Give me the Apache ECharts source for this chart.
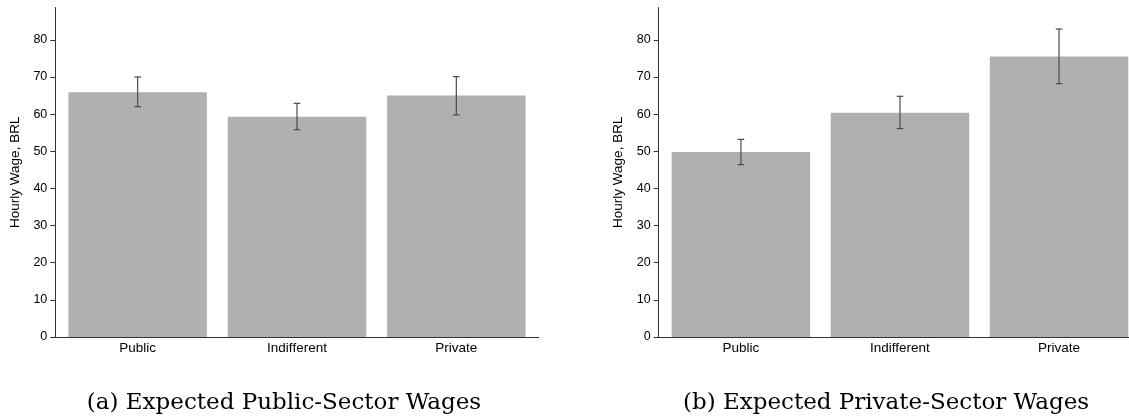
<!DOCTYPE html>
<html>
<head>
<meta charset="utf-8">
<script src="https://cdn.jsdelivr.net/npm/echarts@6/dist/echarts.min.js"></script>
<style>
  html, body { margin: 0; padding: 0; background: #fff; }
  #chart { width: 1129px; height: 417px; }
</style>
</head>
<body>
<div id="chart"></div>
<script>
// Stated sector preference of respondents
const categories = ['Public', 'Indifferent', 'Private'];

// (a) Expected public-sector hourly wages: mean and confidence interval
const publicMean = [65.9, 59.3, 65.0];
const publicLow  = [62.0, 55.8, 59.8];
const publicHigh = [70.0, 62.9, 70.1];

// (b) Expected private-sector hourly wages: mean and confidence interval
const privateMean = [49.8, 60.4, 75.5];
const privateLow  = [46.4, 56.1, 68.2];
const privateHigh = [53.2, 64.8, 82.9];

const yTicks = [0, 10, 20, 30, 40, 50, 60, 70, 80];
const yAxisTitle = 'Hourly Wage, BRL';
const captions = ['(a) Expected Public-Sector Wages', '(b) Expected Private-Sector Wages'];

const sans = 'Liberation Sans, Arial, Helvetica, sans-serif';
const axisColor = '#333';
const barColor = '#b0b0b0';
const whiskerColor = '#4a4a4a';

// Category positions are placed on a numeric x scale (0, 1, 2) so both
// panels share the same spacing; the second panel is cut off by the page edge.
const catIndex = categories.map((c, k) => k);
const grids = [
  { left: 55.3, top: 7.5, width: 483.4, height: 329.5 },
  { left: 658.7, top: 7.5, width: 470.3, height: 329.5 }
];
const xRanges = [[-0.517, 2.517], [-0.517, 2.44]];

function xAxisFor(i) {
  return {
    type: 'value', gridIndex: i, min: xRanges[i][0], max: xRanges[i][1],
    axisLine: { show: true, onZero: false, lineStyle: { color: axisColor, width: 1 } },
    axisTick: { show: false },
    splitLine: { show: false },
    axisLabel: {
      color: '#000', fontFamily: sans, fontSize: 13.5, margin: 4,
      customValues: catIndex, formatter: v => categories[Math.round(v)]
    }
  };
}

function yAxisFor(i) {
  return {
    type: 'value', gridIndex: i, min: 0, max: 88.7, interval: 10,
    name: yAxisTitle, nameLocation: 'middle', nameGap: 33, nameRotate: 90,
    nameTextStyle: { color: '#000', fontFamily: sans, fontSize: 13.5 },
    axisLine: { show: true, onZero: false, lineStyle: { color: axisColor, width: 1 } },
    axisTick: { show: true, length: 5, customValues: yTicks, lineStyle: { color: axisColor } },
    axisLabel: { color: '#000', fontFamily: sans, fontSize: 12.5, margin: 8, customValues: yTicks },
    splitLine: { show: false }
  };
}

function barSeries(i, values) {
  return {
    type: 'bar', xAxisIndex: i, yAxisIndex: i,
    data: values.map((v, k) => [k, v]),
    barWidth: 138.5, itemStyle: { color: barColor }, silent: true
  };
}

// Vertical whisker with short caps at both ends
function whiskerSeries(i, low, high) {
  return {
    type: 'custom', xAxisIndex: i, yAxisIndex: i, silent: true, z: 5,
    data: categories.map((c, k) => [k, low[k], high[k]]),
    renderItem: function (params, api) {
      const top = api.coord([api.value(0), api.value(2)]);
      const bot = api.coord([api.value(0), api.value(1)]);
      const cap = 3.3;
      const style = { stroke: whiskerColor, lineWidth: 1.2 };
      return {
        type: 'group',
        children: [
          { type: 'line', shape: { x1: top[0], y1: top[1], x2: bot[0], y2: bot[1] }, style },
          { type: 'line', shape: { x1: top[0] - cap, y1: top[1], x2: top[0] + cap, y2: top[1] }, style },
          { type: 'line', shape: { x1: bot[0] - cap, y1: bot[1], x2: bot[0] + cap, y2: bot[1] }, style }
        ]
      };
    }
  };
}

const chart = echarts.init(document.getElementById('chart'), null, { renderer: 'canvas' });
chart.setOption({
  animation: false,
  backgroundColor: '#fff',
  grid: grids,
  xAxis: [xAxisFor(0), xAxisFor(1)],
  yAxis: [yAxisFor(0), yAxisFor(1)],
  series: [
    barSeries(0, publicMean), whiskerSeries(0, publicLow, publicHigh),
    barSeries(1, privateMean), whiskerSeries(1, privateLow, privateHigh)
  ],
  graphic: [
    { type: 'text', x: 284, y: 403, style: { text: captions[0], fill: '#000',
      font: '23px "DejaVu Serif", serif', align: 'center', verticalAlign: 'middle' } },
    { type: 'text', x: 886, y: 403, style: { text: captions[1], fill: '#000',
      font: '23px "DejaVu Serif", serif', align: 'center', verticalAlign: 'middle' } }
  ]
});
</script>
</body>
</html>
